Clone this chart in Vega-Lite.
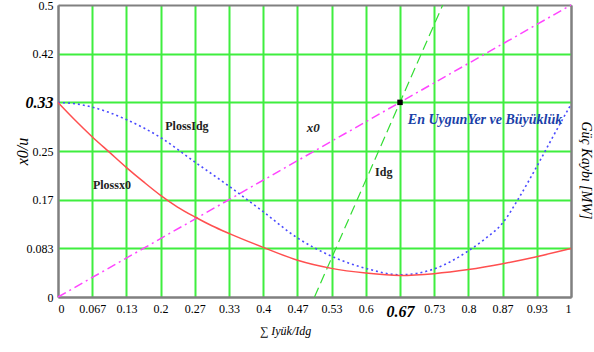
{
  "$schema": "https://vega.github.io/schema/vega-lite/v6.json",
  "width": 513,
  "height": 292,
  "autosize": {"type": "none"},
  "padding": {"left": 58, "top": 5, "right": 23, "bottom": 55},
  "background": "white",
  "config": {"view": {"stroke": null}, "font": "Times New Roman, Liberation Serif, serif"},
  "datasets": {
    "curves": [
      {"series": "Plossx0", "x": 0, "y": 0.333},
      {"series": "Plossx0", "x": 0.033, "y": 0.303},
      {"series": "Plossx0", "x": 0.067, "y": 0.274},
      {"series": "Plossx0", "x": 0.1, "y": 0.248},
      {"series": "Plossx0", "x": 0.133, "y": 0.222},
      {"series": "Plossx0", "x": 0.167, "y": 0.197},
      {"series": "Plossx0", "x": 0.2, "y": 0.174},
      {"series": "Plossx0", "x": 0.233, "y": 0.154},
      {"series": "Plossx0", "x": 0.267, "y": 0.137},
      {"series": "Plossx0", "x": 0.3, "y": 0.122},
      {"series": "Plossx0", "x": 0.333, "y": 0.109},
      {"series": "Plossx0", "x": 0.4, "y": 0.085},
      {"series": "Plossx0", "x": 0.467, "y": 0.063},
      {"series": "Plossx0", "x": 0.533, "y": 0.049},
      {"series": "Plossx0", "x": 0.6, "y": 0.041},
      {"series": "Plossx0", "x": 0.667, "y": 0.037},
      {"series": "Plossx0", "x": 0.733, "y": 0.04},
      {"series": "Plossx0", "x": 0.8, "y": 0.047},
      {"series": "Plossx0", "x": 0.867, "y": 0.057},
      {"series": "Plossx0", "x": 0.933, "y": 0.069},
      {"series": "Plossx0", "x": 1, "y": 0.083},
      {"series": "PlossIdg", "x": 0, "y": 0.333},
      {"series": "PlossIdg", "x": 0.033, "y": 0.331},
      {"series": "PlossIdg", "x": 0.067, "y": 0.325},
      {"series": "PlossIdg", "x": 0.133, "y": 0.304},
      {"series": "PlossIdg", "x": 0.2, "y": 0.273},
      {"series": "PlossIdg", "x": 0.267, "y": 0.231},
      {"series": "PlossIdg", "x": 0.333, "y": 0.19},
      {"series": "PlossIdg", "x": 0.4, "y": 0.146},
      {"series": "PlossIdg", "x": 0.467, "y": 0.101},
      {"series": "PlossIdg", "x": 0.533, "y": 0.07},
      {"series": "PlossIdg", "x": 0.6, "y": 0.049},
      {"series": "PlossIdg", "x": 0.667, "y": 0.038},
      {"series": "PlossIdg", "x": 0.733, "y": 0.048},
      {"series": "PlossIdg", "x": 0.8, "y": 0.079},
      {"series": "PlossIdg", "x": 0.833, "y": 0.1},
      {"series": "PlossIdg", "x": 0.867, "y": 0.127},
      {"series": "PlossIdg", "x": 0.9, "y": 0.172},
      {"series": "PlossIdg", "x": 0.933, "y": 0.223},
      {"series": "PlossIdg", "x": 0.967, "y": 0.278},
      {"series": "PlossIdg", "x": 1, "y": 0.33},
      {"series": "x0", "x": 0, "y": 0},
      {"series": "x0", "x": 1, "y": 0.5},
      {"series": "Idg", "x": 0.5, "y": 0},
      {"series": "Idg", "x": 0.75, "y": 0.5}
    ],
    "notes": [
      {"label": "Plossx0", "x": 0.068, "y": 0.192},
      {"label": "PlossIdg", "x": 0.209, "y": 0.293},
      {"label": "x0", "x": 0.485, "y": 0.289},
      {"label": "Idg", "x": 0.618, "y": 0.214},
      {"label": "En UygunYer ve Büyüklük", "x": 0.682, "y": 0.303}
    ],
    "optimum": [{"x": 0.6667, "y": 0.3333}]
  },
  "encoding": {
    "x": {
      "field": "x", "type": "quantitative",
      "scale": {"domain": [0, 1], "nice": false, "zero": false},
      "axis": {
        "values": [0, 0.0666667, 0.1333333, 0.2, 0.2666667, 0.3333333, 0.4, 0.4666667, 0.5333333, 0.6, 0.6666667, 0.7333333, 0.8, 0.8666667, 0.9333333, 1],
        "format": ".2~r",
        "grid": true,
        "gridColor": {"condition": {"test": "datum.value < 0.01 || datum.value > 0.99", "value": "#808080"}, "value": "#3fee3f"},
        "gridWidth": 2,
        "gridOpacity": 1,
        "domainColor": "#808080",
        "domainWidth": 2,
        "ticks": false,
        "labelPadding": 6,
        "labelFont": "Times New Roman, Liberation Serif, serif",
        "labelFontSize": {"condition": {"test": "abs(datum.value - 0.6666667) < 0.001", "value": 16}, "value": 12},
        "labelFontWeight": {"condition": {"test": "abs(datum.value - 0.6666667) < 0.001", "value": "bold"}, "value": "normal"},
        "labelFontStyle": {"condition": {"test": "abs(datum.value - 0.6666667) < 0.001", "value": "italic"}, "value": "normal"},
        "labelColor": "black",
        "labelOverlap": false,
        "title": "∑ Iyük/Idg",
        "titleFont": "Times New Roman, Liberation Serif, serif",
        "titleFontSize": 12,
        "titleFontStyle": "italic",
        "titleFontWeight": "normal",
        "titleX": 227,
        "titleY": 28,
        "titleBaseline": "top",
        "titleAlign": "center"
      }
    },
    "y": {
      "field": "y", "type": "quantitative",
      "scale": {"domain": [0, 0.5], "nice": false, "zero": false},
      "axis": null
    }
  },
  "layer": [
    {
      "data": {"name": "curves"},
      "mark": {"type": "line", "opacity": 0},
      "encoding": {
        "y": {
          "field": "y", "type": "quantitative",
          "scale": {"domain": [0, 0.5], "nice": false, "zero": false},
          "axis": {
            "values": [0, 0.0833333, 0.1666667, 0.25, 0.3333333, 0.4166667, 0.5],
            "format": ".2~r",
            "grid": true,
            "gridColor": {"condition": {"test": "datum.value < 0.01 || datum.value > 0.49", "value": "#808080"}, "value": "#3fee3f"},
            "gridWidth": 2,
            "gridOpacity": 1,
            "domainColor": "#808080",
            "domainWidth": 2,
            "ticks": false,
            "labelPadding": 5,
            "labelFont": "Times New Roman, Liberation Serif, serif",
            "labelFontSize": {"condition": {"test": "abs(datum.value - 0.3333333) < 0.001", "value": 16}, "value": 12},
            "labelFontWeight": {"condition": {"test": "abs(datum.value - 0.3333333) < 0.001", "value": "bold"}, "value": "normal"},
            "labelFontStyle": {"condition": {"test": "abs(datum.value - 0.3333333) < 0.001", "value": "italic"}, "value": "normal"},
            "labelColor": "black",
            "labelOverlap": false,
            "title": "x0/u",
            "titleFont": "Times New Roman, Liberation Serif, serif",
            "titleFontSize": 16,
            "titleFontStyle": "italic",
            "titleFontWeight": "normal",
            "titleAngle": -90,
            "titleX": -36,
            "titleY": 146,
            "titleAlign": "center",
            "titleBaseline": "middle"
          }
        }
      }
    },
    {
      "data": {"name": "curves"},
      "mark": {"type": "line", "opacity": 0},
      "encoding": {
        "y": {
          "field": "y", "type": "quantitative",
          "scale": {"domain": [0, 0.5], "nice": false, "zero": false},
          "axis": {
            "orient": "right",
            "grid": false,
            "labels": false,
            "ticks": false,
            "domainColor": "#808080",
            "domainWidth": 2,
            "title": "Güç Kaybı [MW]",
            "titleFont": "Times New Roman, Liberation Serif, serif",
            "titleFontSize": 14,
            "titleFontStyle": "italic",
            "titleFontWeight": "normal",
            "titleAngle": 90,
            "titleX": 14,
            "titleY": 165,
            "titleAlign": "center",
            "titleBaseline": "middle"
          }
        }
      }
    },
    {
      "data": {"name": "curves"},
      "transform": [{"filter": "datum.series === 'x0'"}],
      "mark": {"type": "line", "color": "#ff44ff", "strokeWidth": 1.5, "strokeDash": [9, 4, 2, 4]}
    },
    {
      "data": {"name": "curves"},
      "transform": [{"filter": "datum.series === 'Idg'"}],
      "mark": {"type": "line", "color": "#33dd33", "strokeWidth": 1.2, "strokeDash": [10, 5]}
    },
    {
      "data": {"name": "curves"},
      "transform": [{"filter": "datum.series === 'PlossIdg'"}],
      "mark": {"type": "line", "color": "#4a4aff", "strokeWidth": 1.6, "strokeDash": [2, 3], "interpolate": "monotone"}
    },
    {
      "data": {"name": "curves"},
      "transform": [{"filter": "datum.series === 'Plossx0'"}],
      "mark": {"type": "line", "color": "#ff4f4f", "strokeWidth": 1.5, "interpolate": "monotone"}
    },
    {
      "data": {"name": "optimum"},
      "mark": {"type": "square", "color": "black", "size": 30, "opacity": 1, "filled": true}
    },
    {
      "data": {"name": "notes"},
      "transform": [{"filter": "datum.label === 'Plossx0' || datum.label === 'PlossIdg' || datum.label === 'Idg'"}],
      "mark": {"type": "text", "align": "left", "baseline": "middle", "font": "Times New Roman, Liberation Serif, serif", "fontSize": 12, "fontWeight": "bold", "color": "#222222"},
      "encoding": {"text": {"field": "label"}}
    },
    {
      "data": {"name": "notes"},
      "transform": [{"filter": "datum.label === 'x0'"}],
      "mark": {"type": "text", "align": "left", "baseline": "middle", "font": "Times New Roman, Liberation Serif, serif", "fontSize": 13, "fontWeight": "bold", "fontStyle": "italic", "color": "#222222"},
      "encoding": {"text": {"field": "label"}}
    },
    {
      "data": {"name": "notes"},
      "transform": [{"filter": "datum.label === 'En UygunYer ve Büyüklük'"}],
      "mark": {"type": "text", "align": "left", "baseline": "middle", "font": "Times New Roman, Liberation Serif, serif", "fontSize": 14, "fontWeight": "bold", "fontStyle": "italic", "color": "#1a3fa8"},
      "encoding": {"text": {"field": "label"}}
    }
  ],
  "resolve": {"axis": {"y": "independent"}}
}
